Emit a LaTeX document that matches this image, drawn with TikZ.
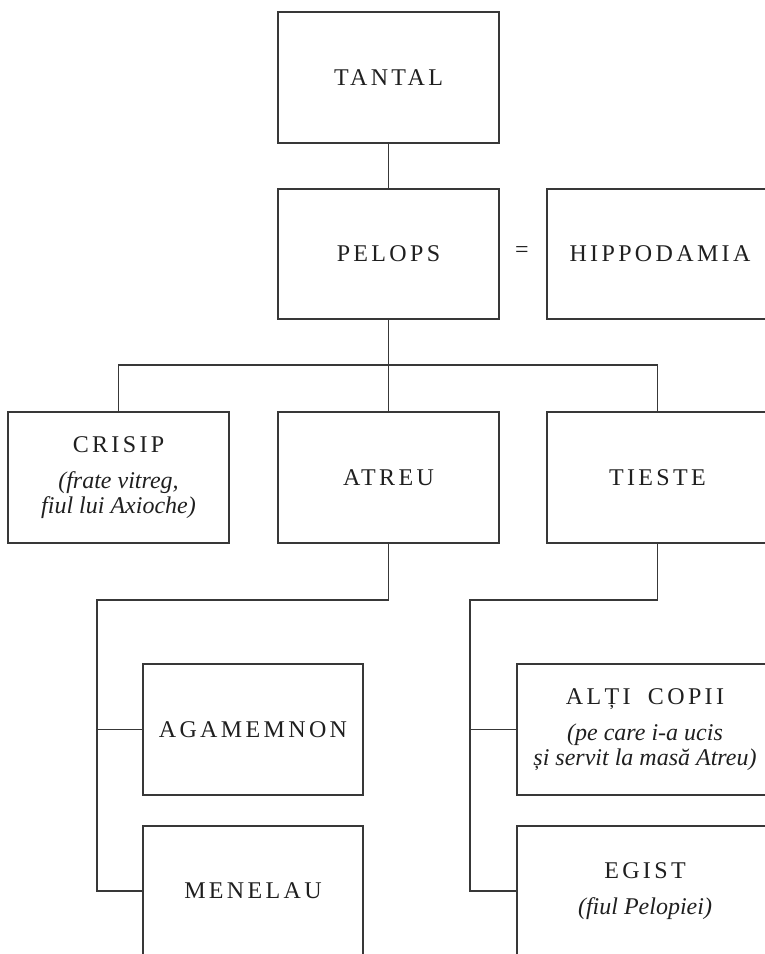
\documentclass[tikz,border=0pt]{standalone}
\usepackage{fontspec}
\setmainfont{Liberation Serif}
\newfontfamily\capsf{Liberation Serif}[LetterSpace=14]
\begin{document}
\begin{tikzpicture}[x=1pt,y=-1pt,
  famline/.style={draw=black!78, line width=1.1pt},
  fambox/.style={famline, rectangle, inner sep=0pt, align=center,
     minimum width=221pt, minimum height=131pt, text=black!88,
     font=\fontsize{24}{25}\selectfont},
  widebox/.style={fambox, minimum width=256pt},
  conn/.style={famline}]
\useasboundingbox (0,0) rectangle (765,954);
\clip (0,0) rectangle (765,954);

\node[fambox] (tantal) at (388.5,77.5) {\capsf TANTAL};
\node[fambox, minimum height=130pt] (pelops) at (388.5,254) {\capsf PELOPS};
\node[fambox, minimum width=226pt, minimum height=130pt] (hippo) at (660,254) {\capsf HIPPODAMIA};
\node[text=black!88, font=\fontsize{24}{25}\selectfont] (eq) at (522,252) {=};

\node[fambox] (crisip) at (118.5,477.5) {{\capsf CRISIP}\\[11pt]\itshape (frate vitreg,\\\itshape fiul lui Axioche)};
\node[fambox] (atreu) at (388.5,477.5) {\capsf ATREU};
\node[fambox] (tieste) at (657.5,477.5) {\capsf TIESTE};

\node[fambox, minimum width=220pt] (agam) at (253,729.5) {\capsf AGAMEMNON};
\node[fambox, minimum width=220pt, minimum height=130pt] (menel) at (253,891) {\capsf MENELAU};

\node[widebox] (alti) at (645,729.5) {{\capsf ALȚI\hspace{8pt} COPII}\\[11pt]\itshape (pe care i-a ucis\\\itshape și servit la masă Atreu)};
\node[widebox, minimum height=130pt] (egist) at (645,891) {{\capsf EGIST}\\[11pt]\itshape (fiul Pelopiei)};

\coordinate (j1) at (388.5,365);
\coordinate (a1) at (97,600);
\coordinate (t1) at (470,600);

\draw[conn] (tantal.south) -- (pelops.north);
\draw[conn] (pelops.south) -- (atreu.north);
\draw[conn] (crisip.north) -- (crisip.north |- j1) -- (tieste.north |- j1) -- (tieste.north);

\draw[conn] (atreu.south) |- (a1) -- (a1 |- menel.west) -- (menel.west);
\draw[conn] (a1 |- agam.west) -- (agam.west);

\draw[conn] (tieste.south) |- (t1) -- (t1 |- egist.west) -- (egist.west);
\draw[conn] (t1 |- alti.west) -- (alti.west);
\end{tikzpicture}
\end{document}
